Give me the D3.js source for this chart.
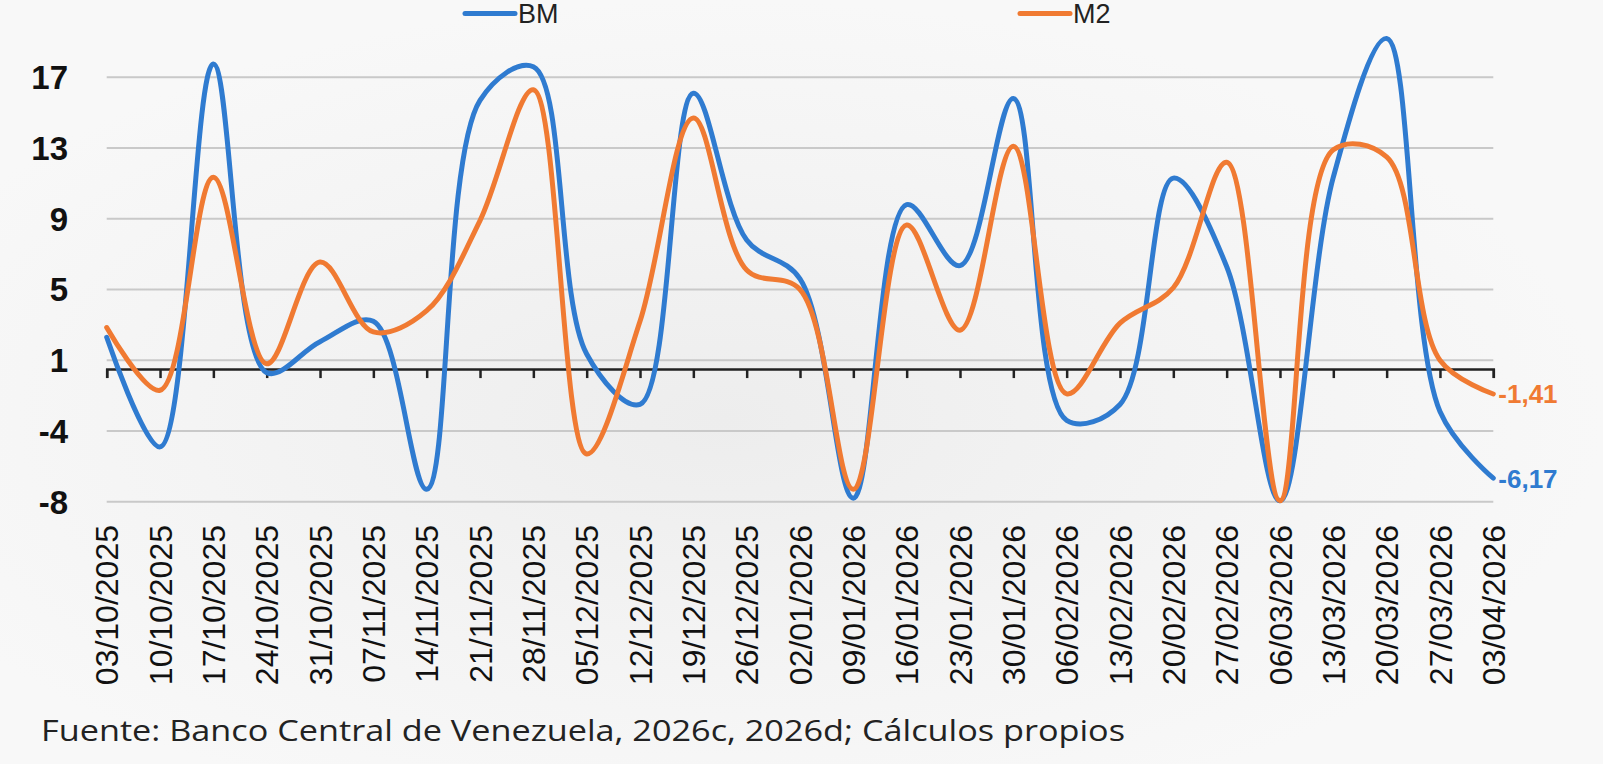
<!DOCTYPE html>
<html>
<head>
<meta charset="utf-8">
<script src="https://cdn.jsdelivr.net/npm/d3@7"></script>
<style>
	body { margin: 0; background: #f6f6f6; overflow: hidden; }
	#graphicContainer { width: 1603px; height: 764px; }
	text { font-family: "Liberation Sans", Arial, sans-serif; }
	text.source { font-family: "Open Sans", sans-serif; }
</style>
</head>
<body>
<div id="graphicContainer"></div>
<script>

// weekly dates
var dates = ["03/10/2025","10/10/2025","17/10/2025","24/10/2025","31/10/2025","07/11/2025","14/11/2025",
	"21/11/2025","28/11/2025","05/12/2025","12/12/2025","19/12/2025","26/12/2025","02/01/2026",
	"09/01/2026","16/01/2026","23/01/2026","30/01/2026","06/02/2026","13/02/2026","20/02/2026",
	"27/02/2026","06/03/2026","13/03/2026","20/03/2026","27/03/2026","03/04/2026"]

var bm = [1.8, -4.4, 17.25, -0.2, 1.55, 2.7, -6.8, 15.2, 17.1, 0.85, -2.0, 15.6, 7.3, 5.1,
	-7.3, 9.3, 5.85, 15.3, -2.9, -2.0, 10.8, 5.8, -7.45, 10.85, 18.7, -2.4, -6.17]

var m2 = [2.35, -1.2, 10.85, 0.3, 6.05, 2.1, 3.3, 8.4, 15.8, -4.8, 2.7, 14.2, 5.6, 4.5,
	-6.8, 8.15, 2.2, 12.6, -1.4, 2.6, 4.6, 11.7, -7.45, 12.4, 12.0, 0.5, -1.41]

var yTickValues = [-7.5, -3.5, 0.5, 4.5, 8.5, 12.5, 16.5]
var yTickLabels = ["-8", "-4", "1", "5", "9", "13", "17"]

var seriesNames = ["BM", "M2"]
var colors = ["#2f7bd0", "#f07a32"]
var endLabels = ["-6,17", "-1,41"]

function init() {

	var width = 1603
	var height = 764
	var margin = {top: 77.3, right: 109.7, bottom: 262.3, left: 106.7}

	var svg = d3.select("#graphicContainer").append("svg")
		.attr("width", width)
		.attr("height", height)

	var defs = svg.append("defs")
	var grad = defs.append("radialGradient")
		.attr("id", "bg")
		.attr("cx", "45%").attr("cy", "55%").attr("r", "55%")
	grad.append("stop").attr("offset", "0%").attr("stop-color", "#ededed")
	grad.append("stop").attr("offset", "60%").attr("stop-color", "#f4f4f4")
	grad.append("stop").attr("offset", "100%").attr("stop-color", "#f8f8f8")

	svg.append("rect")
		.attr("width", width)
		.attr("height", height)
		.attr("fill", "url(#bg)")

	var x = d3.scalePoint()
		.domain(dates)
		.range([margin.left, width - margin.right])

	var y = d3.scaleLinear()
		.domain([-7.5, 16.5])
		.range([height - margin.bottom, margin.top])

	// gridlines
	svg.append("g")
		.selectAll("line")
		.data(yTickValues)
		.enter()
		.append("line")
		.attr("x1", margin.left)
		.attr("x2", width - margin.right)
		.attr("y1", d => y(d))
		.attr("y2", d => y(d))
		.attr("stroke", "#c9c9c9")
		.attr("stroke-width", 2)

	// y labels
	svg.append("g")
		.selectAll("text")
		.data(yTickValues)
		.enter()
		.append("text")
		.attr("x", 68)
		.attr("y", d => y(d))
		.attr("dy", "0.36em")
		.attr("text-anchor", "end")
		.attr("font-size", 33)
		.attr("font-weight", "bold")
		.attr("fill", "#111")
		.text((d, i) => yTickLabels[i])

	// zero axis with ticks
	var xAxis = d3.axisBottom(x)
		.tickSize(9)
		.tickSizeOuter(9)
		.tickFormat("")

	var axisG = svg.append("g")
		.attr("transform", "translate(0," + y(0) + ")")
		.call(xAxis)
	axisG.select(".domain").attr("stroke", "#222").attr("stroke-width", 2.5)
	axisG.selectAll(".tick line").attr("stroke", "#222").attr("stroke-width", 2.5)

	// date labels
	svg.append("g")
		.selectAll("text")
		.data(dates)
		.enter()
		.append("text")
		.attr("transform", d => "translate(" + x(d) + ",525) rotate(-90)")
		.attr("text-anchor", "end")
		.attr("dy", "0.36em")
		.attr("font-size", 32)
		.attr("fill", "#111")
		.text(d => d)

	var line = d3.line()
		.x((d, i) => x(dates[i]))
		.y(d => y(d))
		.curve(d3.curveCatmullRom.alpha(0.5))

	var series = [bm, m2]

	// orange drawn over blue
	svg.append("g")
		.selectAll("path")
		.data(series)
		.enter()
		.append("path")
		.attr("d", d => line(d))
		.attr("fill", "none")
		.attr("stroke", (d, i) => colors[i])
		.attr("stroke-width", 5)
		.attr("stroke-linejoin", "round")
		.attr("stroke-linecap", "round")

	// end labels
	svg.append("g")
		.selectAll("text")
		.data(series)
		.enter()
		.append("text")
		.attr("x", width - margin.right + 5)
		.attr("y", d => y(d[d.length - 1]))
		.attr("dy", "0.36em")
		.attr("font-size", 26)
		.attr("font-weight", "bold")
		.attr("fill", (d, i) => colors[i])
		.text((d, i) => endLabels[i])

	// legend
	var legendX = [463, 1018]
	var legend = svg.append("g")
		.selectAll("g")
		.data(seriesNames)
		.enter()
		.append("g")
		.attr("transform", (d, i) => "translate(" + legendX[i] + ",13.5)")

	legend.append("line")
		.attr("x1", 2).attr("x2", 52)
		.attr("stroke", (d, i) => colors[i])
		.attr("stroke-width", 5)
		.attr("stroke-linecap", "round")

	legend.append("text")
		.attr("x", 55)
		.attr("dy", "0.36em")
		.attr("font-size", 27)
		.attr("fill", "#222")
		.text(d => d)

	// source
	svg.append("text")
		.attr("class", "source")
		.attr("x", 41)
		.attr("y", 741)
		.attr("font-size", 29)
		.attr("textLength", 1084)
		.attr("lengthAdjust", "spacingAndGlyphs")
		.attr("fill", "#222")
		.text("Fuente: Banco Central de Venezuela, 2026c, 2026d; Cálculos propios")

}

init()

</script>
</body>
</html>
